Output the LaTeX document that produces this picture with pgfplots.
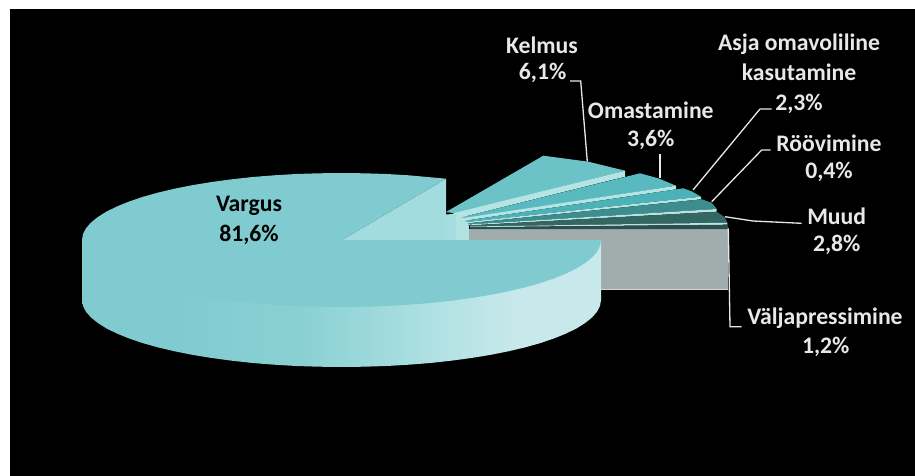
\documentclass[border=0pt]{standalone}
\usepackage{fontspec}
\setmainfont{Carlito}
\usepackage{pgfplots}
\pgfplotsset{compat=1.18}

\definecolor{sideA}{HTML}{80CBCF}
\definecolor{sideB}{HTML}{8AD0D3}
\definecolor{sideC}{HTML}{A4DCDE}
\definecolor{sideD}{HTML}{B8E3E6}
\definecolor{sideE}{HTML}{C8E9EB}
\definecolor{faceMain}{HTML}{7FCBCF}
\definecolor{cutMain}{HTML}{A3DCDE}
\definecolor{blockA}{HTML}{A6DDDF}
\definecolor{blockB}{HTML}{B4E2E3}
\definecolor{strip}{HTML}{B5E4E5}
\definecolor{kelmus}{HTML}{6BC3C7}
\definecolor{omast}{HTML}{58B9BF}
\definecolor{asja}{HTML}{4BB3B8}
\definecolor{roov}{HTML}{3D8D8F}
\definecolor{muud}{HTML}{346662}
\definecolor{valja}{HTML}{2A4F4E}
\definecolor{grey}{HTML}{A0ADAC}
\definecolor{lab}{HTML}{E8E8E8}

\pgfdeclarehorizontalshading{pieside}{100bp}{
  color(0bp)=(sideA); color(33.5bp)=(sideA); color(46bp)=(sideB);
  color(55.6bp)=(sideC); color(61.4bp)=(sideD); color(67.2bp)=(sideE);
  color(100bp)=(sideE)}

\tikzset{
  lbl/.style={font=\fontsize{23.7}{28}\selectfont\bfseries, text=lab, inner sep=0pt},
  lblk/.style={font=\fontsize{23.7}{28}\selectfont\bfseries, text=black, inner sep=0pt},
}

\begin{document}
\begin{tikzpicture}
\begin{axis}[
    scale only axis, width=915pt, height=476pt,
    xmin=0, xmax=915, ymin=0, ymax=476,
    y dir=reverse, hide axis, no marks,
    wedge/.style={draw=none, fill=#1},
    leader/.style={draw=lab, line width=1.3pt, sharp plot},
]
% background
\addplot[wedge=white] coordinates {(0,0) (915,0) (915,476) (0,476)};
\addplot[wedge=black] coordinates {(10,9) (915,9) (915,476) (10,476)};

% grey side of the last slice
\addplot[wedge=grey] coordinates {(469,229) (728,229) (728,289) (469,289)};
\addplot[draw=lab!70!grey, line width=0.8pt] coordinates {(600,289) (728,289)};

% cut faces behind the fan
\addplot[wedge=blockA] coordinates {(440,215) (465,213) (465,240) (440,240)};
\addplot[wedge=blockB] coordinates {(456,216) (469,216) (469,240) (456,240)};

% exploded slices
\addplot[wedge=kelmus] coordinates {(446,212) (543.3,155.7) (588.3,161.7) (625,170.7) (455,213.3)};
\addplot[wedge=strip] coordinates {(625,170.7) (625,176.7) (461.7,217.3) (453,213.3)};
\addplot[wedge=omast] coordinates {(461.7,217.3) (640,173.3) (658.3,178.3) (676,185.7) (466.7,218.3)};
\addplot[wedge=strip] coordinates {(676,185.7) (676,189.3) (465,220.7) (461.7,218.3)};
\addplot[wedge=asja] coordinates {(465,220.7) (683.3,188.3) (692,191.5) (701,196.7) (466.7,222)};
\addplot[wedge=strip] coordinates {(701,196.7) (701,199.3) (468,223.3) (466.7,222)};
\addplot[wedge=roov] coordinates {(468,223.3) (701.7,199.3) (711.7,202.7) (716.7,209) (468,224.5)};
\addplot[wedge=strip] coordinates {(716.7,209) (716.7,211.7) (468,225.5) (468,224.5)};
\addplot[wedge=muud] coordinates {(468,225.5) (716.7,211.7) (725,217.3) (727.3,222.7) (470,226.5)};
\addplot[wedge=strip] coordinates {(727.3,222.7) (727.3,224.7) (470,227.3) (470,226.5)};
\addplot[wedge=valja] coordinates {(470,227.3) (728,224.7) (728,229) (470,229)};

% main slice, outer wall
\addplot[draw=none, shading=pieside, shading angle=0] coordinates {
  (601,240) (601,300) (600,305.8) (597.1,311.6) (592.2,317.3) (585.3,322.9)
  (576.7,328.3) (566.2,333.5) (554.1,338.4) (540.3,343.1) (525,347.4)
  (508.3,351.3) (490.3,354.9) (471.3,358) (451.2,360.7) (430.3,363)
  (408.7,364.7) (386.6,366) (364.1,366.7) (341.5,367) (318.9,366.7)
  (296.4,366) (274.3,364.7) (252.7,363) (231.8,360.7) (211.7,358)
  (192.7,354.9) (174.7,351.3) (158,347.4) (142.7,343.1) (128.9,338.4)
  (116.8,333.5) (106.3,328.3) (97.7,322.9) (90.8,317.3) (85.9,311.6)
  (83,305.8) (82,300) (82,240)};

% main slice, cut face and top
\addplot[wedge=cutMain] coordinates {(342,240) (446,178.7) (446,240)};
\addplot[wedge=faceMain] coordinates {
  (342,240) (446,178.7) (408.7,175.3) (386.6,174) (364.1,173.3) (341.5,173)
  (318.9,173.3) (296.4,174) (274.3,175.3) (252.7,177) (231.8,179.3)
  (211.7,182) (192.7,185.1) (174.7,188.7) (158,192.6) (142.7,196.9)
  (128.9,201.6) (116.8,206.5) (106.3,211.7) (97.7,217.1) (90.8,222.7)
  (85.9,228.4) (83,234.2) (82,240) (83,245.8) (85.9,251.6) (90.8,257.3)
  (97.7,262.9) (106.3,268.3) (116.8,273.5) (128.9,278.4) (142.7,283.1)
  (158,287.4) (174.7,291.3) (192.7,294.9) (211.7,298) (231.8,300.7)
  (252.7,303) (274.3,304.7) (296.4,306) (318.9,306.7) (341.5,307)
  (364.1,306.7) (386.6,306) (408.7,304.7) (430.3,303) (451.2,300.7)
  (471.3,298) (490.3,294.9) (508.3,291.3) (525,287.4) (540.3,283.1)
  (554.1,278.4) (566.2,273.5) (576.7,268.3) (585.3,262.9) (592.2,257.3)
  (597.1,251.6) (600,245.8) (601,240)};

% leader lines
\addplot[leader] coordinates {(570,81) (580.7,81) (587.3,161.7)};
\addplot[leader] coordinates {(660,154) (660,178)};
\addplot[leader] coordinates {(771.7,109) (760,109) (693,190)};
\addplot[leader] coordinates {(770.7,150) (761.7,150) (711.7,201.7)};
\addplot[leader] coordinates {(725,216.7) (753,221) (801.7,223.3)};
\addplot[leader] coordinates {(728.3,228.3) (730,326.7) (741.7,326.7)};

% labels
\node[lblk] at (axis cs:249,206) {Vargus};
\node[lblk] at (axis cs:249,235) {81,6\%};
\node[lbl] at (axis cs:542,45) {Kelmus};
\node[lbl] at (axis cs:542.6,73) {6,1\%};
\node[lbl] at (axis cs:650.8,110) {Omastamine};
\node[lbl] at (axis cs:650.8,140) {3,6\%};
\node[lbl] at (axis cs:799,44) {Asja omavoliline};
\node[lbl] at (axis cs:799,72.5) {kasutamine};
\node[lbl] at (axis cs:799,104) {2,3\%};
\node[lbl] at (axis cs:829,143) {Röövimine};
\node[lbl] at (axis cs:829,172) {0,4\%};
\node[lbl] at (axis cs:836.7,216) {Muud};
\node[lbl] at (axis cs:836.7,245) {2,8\%};
\node[lbl] at (axis cs:825,318) {Väljapressimine};
\node[lbl] at (axis cs:825.7,347) {1,2\%};
\end{axis}
\end{tikzpicture}
\end{document}
